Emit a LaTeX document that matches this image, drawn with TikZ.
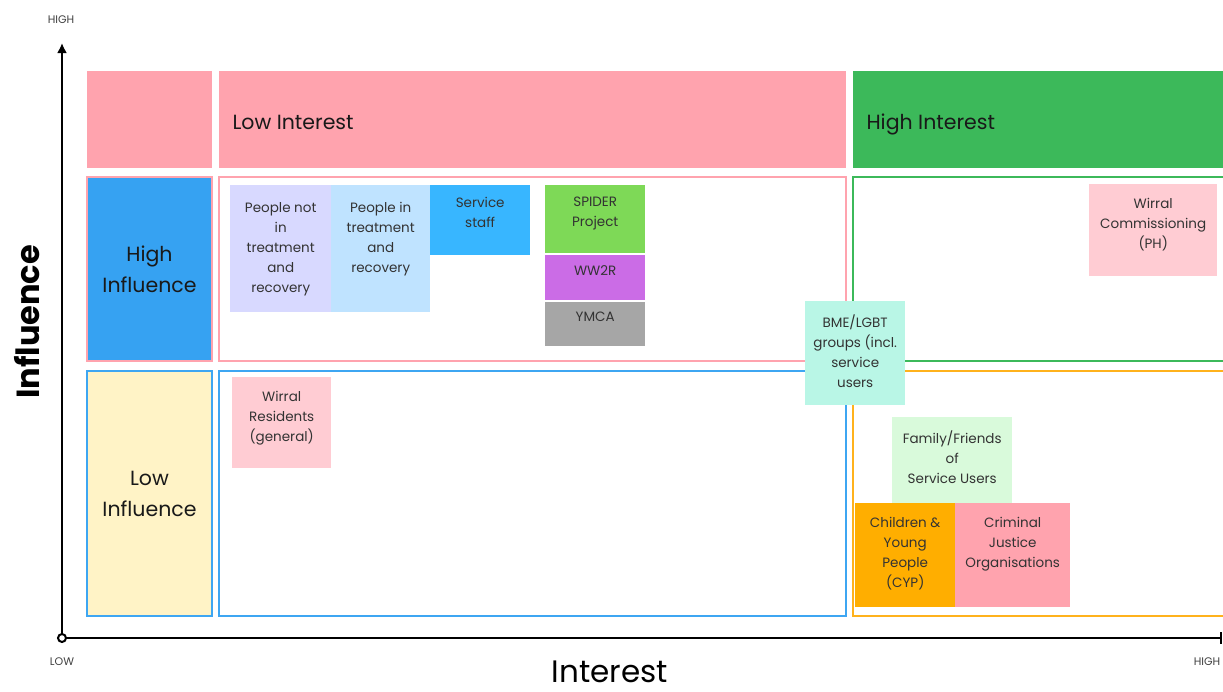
\documentclass[tikz,border=0pt]{standalone}
\usepackage{fontspec}
\setmainfont{Poppins}
\usetikzlibrary{arrows.meta}
\definecolor{headpink}{HTML}{FFA3AE}
\definecolor{headgreen}{HTML}{3CB95A}
\definecolor{infblue}{HTML}{36A2F2}
\definecolor{frameblue}{HTML}{3EA6F2}
\definecolor{infyellow}{HTML}{FFF3C6}
\definecolor{frameorange}{HTML}{FFB21C}
\definecolor{lavender}{HTML}{D8D9FF}
\definecolor{paleblue}{HTML}{BFE3FF}
\definecolor{skyblue}{HTML}{38B6FF}
\definecolor{limegreen}{HTML}{7ED957}
\definecolor{violet}{HTML}{CB6CE6}
\definecolor{midgray}{HTML}{A6A6A6}
\definecolor{palepink}{HTML}{FFCCD3}
\definecolor{mint}{HTML}{B9F6E6}
\definecolor{palegreen}{HTML}{D9FADB}
\definecolor{cyporange}{HTML}{FFAE00}
\definecolor{notetextc}{HTML}{333333}

\begin{document}
\begin{tikzpicture}[x=1pt,y=-1pt,
    cell/.style={anchor=north west, inner sep=0pt, line width=2pt},
    note/.style={anchor=north west, inner sep=0pt, draw=none},
    notetext/.style={anchor=north, align=center, inner sep=0pt, yshift=-14pt,
        text=notetextc, font=\fontsize{13.5}{20}\selectfont},
    bigtext/.style={text=black!90, font=\fontsize{20.5}{31}\selectfont},
    axislbl/.style={text=black!75, font=\fontsize{11}{12}\selectfont}]

        \useasboundingbox (0,0) rectangle (1223,691);

        % axes
        \coordinate (origin) at (62,638);
        \coordinate (ytop) at (62,43);
        \coordinate (xend) at (1222,638);
        \draw[line width=2.5pt, -{Latex[length=10pt,width=10pt]}] (origin) -- (ytop);
        \draw[line width=2.5pt, -{Bar[width=12pt,line width=2.5pt]}] (origin) -- (xend);
        \node[circle, draw, line width=2pt, fill=white, minimum size=8pt, inner sep=0pt] (o) at (origin) {};
        \node[axislbl] (yhigh) at (61,20) {HIGH};
        \node[axislbl] (xlow) at (62,662) {LOW};
        \node[axislbl] (xhigh) at (1207,662) {HIGH};
        \node[rotate=90, font=\bfseries\fontsize{32}{32}\selectfont] (influence) at (27,322) {Influence};
        \node[inner sep=0pt, anchor=base, font=\fontsize{31}{31}\selectfont] (interest) at (610,682) {Interest};

        % header row
        \node[cell, fill=headpink, minimum width=125, minimum height=97] (corner) at (86,70) {};
        \node[cell, fill=headpink, minimum width=627, minimum height=97] (lowint) at (218,70) {};
        \node[cell, fill=headgreen, minimum width=371, minimum height=97] (highint) at (852,70) {};
        \node[bigtext, anchor=base west] (lowintlbl) at (229,129) {Low Interest};
        \node[bigtext, anchor=base west] (highintlbl) at (863,129) {High Interest};

        % row labels
        \node[cell, draw=headpink, fill=infblue, minimum width=125, minimum height=184, bigtext, align=center] (highinf) at (86,176) {High\\Influence};
        \node[cell, draw=frameblue, fill=infyellow, minimum width=125, minimum height=245, bigtext, align=center] (lowinf) at (86,370) {Low\\Influence};

        % quadrants
        \node[cell, draw=headpink, minimum width=627, minimum height=184] (lihi) at (218,176) {};
        \node[cell, draw=headgreen, minimum width=380, minimum height=184] (hihi) at (852,176) {};
        \node[cell, draw=frameblue, minimum width=627, minimum height=245] (lilo) at (218,370) {};
        \node[cell, draw=frameorange, minimum width=380, minimum height=245] (hilo) at (852,370) {};

        % stakeholders
        \node[note, fill=lavender, minimum width=101, minimum height=127] (notin) at (230,185) {};
        \node[notetext, yshift=-3pt] (notin-t) at (notin.north) {People not\\in\\treatment\\and\\recovery};
        \node[note, fill=paleblue, minimum width=99, minimum height=127] (intreat) at (331,185) {};
        \node[notetext, yshift=-3pt] (intreat-t) at (intreat.north) {People in\\treatment\\and\\recovery};
        \node[note, fill=skyblue, minimum width=100, minimum height=70] (staff) at (430,185) {};
        \node[notetext, yshift=2pt] (staff-t) at (staff.north) {Service\\staff};
        \node[note, fill=limegreen, minimum width=100, minimum height=68] (spider) at (545,185) {};
        \node[notetext, yshift=2pt] (spider-t) at (spider.north) {SPIDER\\Project};
        \node[note, fill=violet, minimum width=100, minimum height=45] (ww2r) at (545,255) {};
        \node[notetext, yshift=4pt] (ww2r-t) at (ww2r.north) {WW2R};
        \node[note, fill=midgray, minimum width=100, minimum height=44] (ymca) at (545,302) {};
        \node[notetext, yshift=4pt] (ymca-t) at (ymca.north) {YMCA};
        \node[note, fill=palepink, minimum width=128, minimum height=92] (comm) at (1089,184) {};
        \node[notetext] (comm-t) at (comm.north) {Wirral\\Commissioning\\(PH)};
        \node[note, fill=mint, minimum width=100, minimum height=104] (bme) at (805,301) {};
        \node[notetext] (bme-t) at (bme.north) {BME/LGBT\\groups (incl.\\service\\users};
        \node[note, fill=palepink, minimum width=99, minimum height=91] (resid) at (232,377) {};
        \node[notetext] (resid-t) at (resid.north) {Wirral\\Residents\\(general)};
        \node[note, fill=palegreen, minimum width=120, minimum height=86] (family) at (892,417) {};
        \node[notetext] (family-t) at (family.north) {Family/Friends\\of\\Service Users};
        \node[note, fill=cyporange, minimum width=100, minimum height=104] (cyp) at (855,503) {};
        \node[notetext] (cyp-t) at (cyp.north) {Children \&\\Young\\People\\(CYP)};
        \node[note, fill=headpink, minimum width=115, minimum height=104] (cjo) at (955,503) {};
        \node[notetext] (cjo-t) at (cjo.north) {Criminal\\Justice\\Organisations};
\end{tikzpicture}
\end{document}
